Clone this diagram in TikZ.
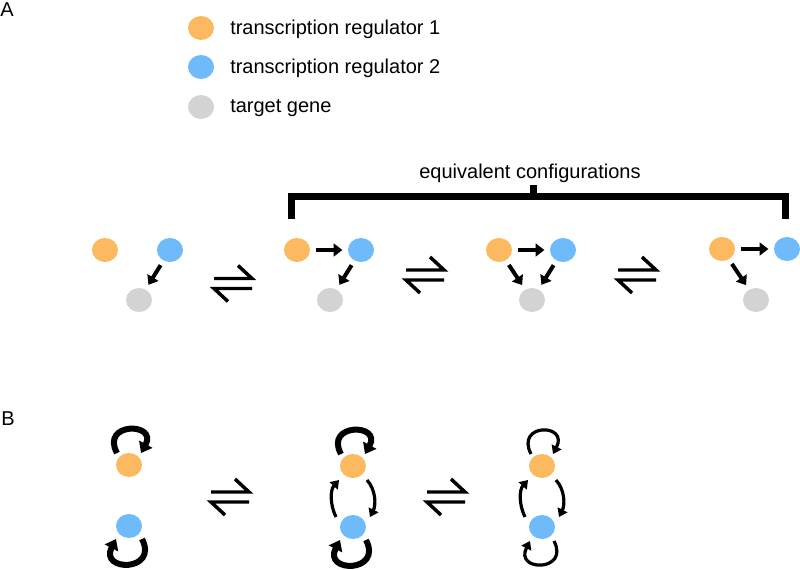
\documentclass[tikz,border=0pt]{standalone}
\usepackage{fontspec}
\setmainfont{Liberation Sans}
\usetikzlibrary{arrows.meta,shapes.geometric}
\definecolor{regA}{RGB}{253,185,95}
\definecolor{regB}{RGB}{110,186,250}
\definecolor{gene}{RGB}{211,211,211}
\begin{document}
\begin{tikzpicture}[x=0.75pt,y=-0.75pt,
  dot/.style={ellipse,minimum width=19.5pt,minimum height=18pt,inner sep=0pt},
  tra/.style={dot,fill=regA}, trb/.style={dot,fill=regB}, tgene/.style={dot,fill=gene},
  lbl/.style={font=\fontsize{15pt}{18pt}\selectfont,inner sep=0pt},
  conn/.style={line width=3pt,-{Triangle[length=6.5pt,width=9.5pt]},shorten <=4pt,shorten >=4pt},
  harp/.style={line width=2.6pt},
  bracket/.style={line width=5.25pt},
  loopthick/.style={line width=4.5pt,-{Triangle[length=7.5pt,width=11pt]}},
  loopthin/.style={line width=2.4pt,-{Triangle[length=6pt,width=8pt]}},
  eqm/.pic={\draw[harp] (-19,-5) -- (19,-5) -- (5,-18); \draw[harp] (19,5) -- (-19,5) -- (-5,18);}
]
\useasboundingbox (0,0) rectangle (800,569);

% panel labels
\node[lbl,anchor=base west] (pA) at (0,16) {A};
\node[lbl,anchor=base west] (pB) at (1,425) {B};

% legend
\node[tra] (l1) at (201,28) {};
\node[trb] (l2) at (201,67) {};
\node[tgene] (l3) at (201,107) {};
\node[lbl,anchor=base west] (t1) at (230,34) {transcription regulator 1};
\node[lbl,anchor=base west] (t2) at (230,73) {transcription regulator 2};
\node[lbl,anchor=base west] (t3) at (230,112) {target gene};

% bracket
\node[lbl,anchor=base] (eqlbl) at (530,178) {equivalent configurations};
\draw[bracket] (291,219) -- (291,196.5) -- (785,196.5) -- (785,219);
\draw[bracket] (533,196.5) -- (533,185);

% panel A configurations
\node[tra] (o1) at (105,250) {};
\node[trb] (b1) at (170,250) {};
\node[tgene] (g1) at (139,300) {};
\draw[conn] (b1) -- (g1);

\node[tra] (o2) at (297,250) {};
\node[trb] (b2) at (361,250) {};
\node[tgene] (g2) at (330,300) {};
\draw[conn] (o2) -- (b2);
\draw[conn] (b2) -- (g2);

\node[tra] (o3) at (499,250) {};
\node[trb] (b3) at (563,250) {};
\node[tgene] (g3) at (532,300) {};
\draw[conn] (o3) -- (b3);
\draw[conn] (o3) -- (g3);
\draw[conn] (b3) -- (g3);

\node[tra] (o4) at (722,249) {};
\node[trb] (b4) at (787,249) {};
\node[tgene] (g4) at (756,300) {};
\draw[conn] (o4) -- (b4);
\draw[conn] (o4) -- (g4);

\pic at (233,283.5) {eqm};
\pic at (425,275) {eqm};
\pic at (637,275) {eqm};

% panel B
\node[tra] (o5) at (129,465) {};
\node[trb] (b5) at (129,526) {};
\draw[loopthick] ([shift={(-12,-12)}]o5.center) .. controls +(-17,-31) and +(17,-31) .. ([shift={(12,-12)}]o5.center);
\draw[loopthick] ([shift={(13,13)}]b5.center) .. controls +(17,33) and +(-17,33) .. ([shift={(-13,13)}]b5.center);

\node[tra] (o6) at (353,466) {};
\node[trb] (b6) at (353,527) {};
\draw[loopthick] ([shift={(-12,-12)}]o6.center) .. controls +(-17,-31) and +(17,-31) .. ([shift={(12,-12)}]o6.center);
\draw[loopthick] ([shift={(13,13)}]b6.center) .. controls +(17,33) and +(-17,33) .. ([shift={(-13,13)}]b6.center);
\draw[loopthin] ([shift={(-17,-10)}]b6.center) .. controls +(-6,-12) and +(-9,10) .. ([shift={(-14,14)}]o6.center);
\draw[loopthin] ([shift={(14,14)}]o6.center) .. controls +(9,10) and +(6,-12) .. ([shift={(17,-10)}]b6.center);

\node[tra] (o7) at (542,466) {};
\node[trb] (b7) at (542,527) {};
\draw[loopthin] ([shift={(-11,-12)}]o7.center) .. controls +(-16,-31) and +(16,-31) .. ([shift={(11,-12)}]o7.center);
\draw[loopthin] ([shift={(12,14)}]b7.center) .. controls +(16,31) and +(-16,31) .. ([shift={(-12,14)}]b7.center);
\draw[loopthin] ([shift={(-17,-10)}]b7.center) .. controls +(-6,-12) and +(-9,10) .. ([shift={(-14,14)}]o7.center);
\draw[loopthin] ([shift={(14,14)}]o7.center) .. controls +(9,10) and +(6,-12) .. ([shift={(17,-10)}]b7.center);

\pic at (230,497) {eqm};
\pic at (446,497) {eqm};
\end{tikzpicture}
\end{document}
